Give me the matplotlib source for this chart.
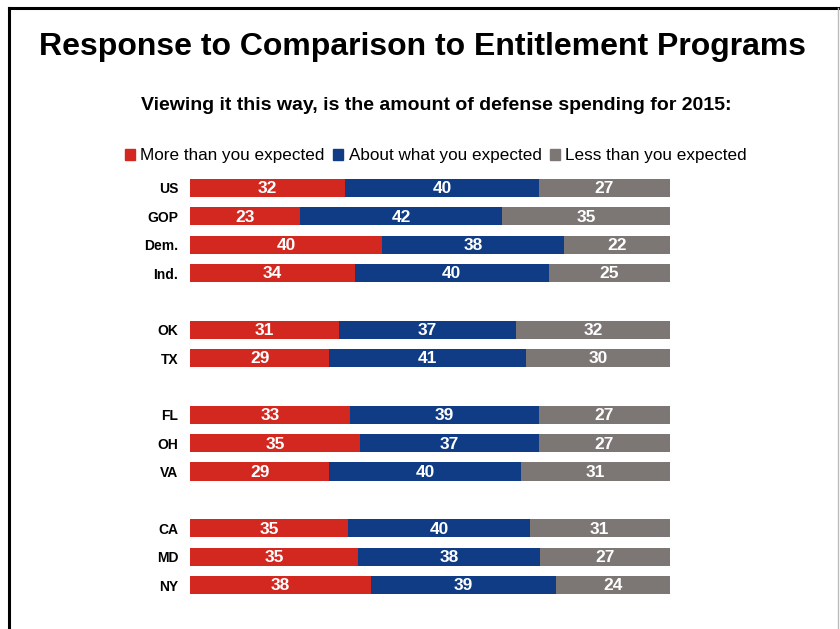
import numpy as np
import matplotlib
matplotlib.use("Agg")
import matplotlib.pyplot as plt
from matplotlib.patches import Rectangle
from matplotlib.lines import Line2D

plt.rcParams['font.family'] = ['Liberation Sans', 'DejaVu Sans']

# survey groups, top to bottom; None marks a blank spacer row
groups = ["US", "GOP", "Dem.", "Ind.", None, "OK", "TX", None,
          "FL", "OH", "VA", None, "CA", "MD", "NY"]
more = [32, 23, 40, 34, None, 31, 29, None, 33, 35, 29, None, 35, 35, 38]
about = [40, 42, 38, 40, None, 37, 41, None, 39, 37, 40, None, 40, 38, 39]
less = [27, 35, 22, 25, None, 32, 30, None, 27, 27, 31, None, 31, 27, 24]

series_names = ["More than you expected", "About what you expected",
                "Less than you expected"]
colors = ["#D2281F", "#0F3C84", "#7C7775"]

fig = plt.figure(figsize=(8.4, 6.29), dpi=100)
ax = fig.add_axes([0.2262, 0.0474, 0.5714, 0.6763])

ypos, labels = [], []
for i, g in enumerate(groups):
    if g is None:
        continue
    vals = [more[i], about[i], less[i]]
    total = sum(vals)
    left = 0.0
    for v, c in zip(vals, colors):
        w = v / total * 100
        ax.barh(i, w, left=left, height=0.64, color=c, edgecolor='none')
        ax.text(left + w / 2, i + 0.03, str(v), ha='center', va='center',
                color='white', fontsize=12.5, fontweight='bold')
        left += w
    ypos.append(i)
    labels.append(g)

ax.set_xlim(0, 100)
ax.set_ylim(len(groups) - 0.5, -0.5)
ax.set_yticks(ypos)
ax.set_yticklabels(labels, fontsize=10, fontweight='bold')
ax.tick_params(axis='y', length=0, pad=8.5)
ax.set_xticks([])
for s in ax.spines.values():
    s.set_visible(False)

fig.text(0.503, 0.926, "Response to Comparison to Entitlement Programs",
         ha='center', va='center', fontsize=23, fontweight='bold')
fig.text(0.519, 0.832, "Viewing it this way, is the amount of defense spending for 2015:",
         ha='center', va='center', fontsize=14, fontweight='bold')

handles = [Rectangle((0, 0), 1, 1, color=c) for c in colors]
fig.legend(handles, series_names, loc='center', bbox_to_anchor=(0.519, 0.752),
           ncol=3, frameon=False, handlelength=0.6, handleheight=0.6,
           handletextpad=0.3, columnspacing=0.5,
           prop={'family': ['Liberation Sans'], 'size': 12.3})

# outer border: black on the left and top, light grey on the right
fig.add_artist(Line2D([0.0107, 0.0107], [0, 0.988], color='black', lw=2.2,
                      transform=fig.transFigure))
fig.add_artist(Line2D([0.0107, 0.999], [0.988, 0.988], color='black', lw=2.2,
                      transform=fig.transFigure))
fig.add_artist(Line2D([0.998, 0.998], [0, 0.988], color='#BBBBBB', lw=1,
                      transform=fig.transFigure))

fig.savefig("out.png", dpi=100)
